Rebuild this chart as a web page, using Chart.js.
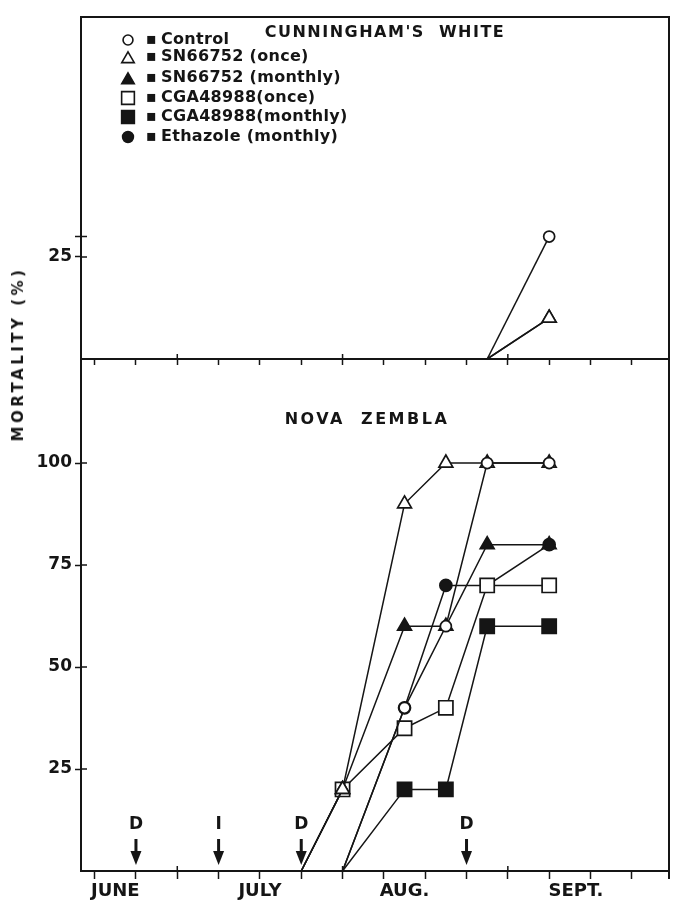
<!DOCTYPE html>
<html>
<head>
<meta charset="utf-8">
<title>Mortality</title>
<script src="https://cdn.jsdelivr.net/npm/chart.js@4.4.1/dist/chart.umd.min.js"></script>
<style>
  html, body { margin: 0; padding: 0; background: #fff; }
  #wrap { position: relative; width: 675px; height: 908px; overflow: hidden; }
  #nova-chart { position: absolute; left: 0; top: 359px; }
  #cw-chart { position: absolute; left: 0; top: 0; }
  #y-title {
    position: absolute; left: 18px; top: 354px;
    transform: translate(-50%, -50%) rotate(-90deg);
    font: bold 15px "DejaVu Sans", sans-serif; letter-spacing: 3.5px;
    white-space: nowrap; color: #151515;
  }
</style>
</head>
<body>
<div id="wrap">
  <canvas id="nova-chart" width="675" height="549"></canvas>
  <canvas id="cw-chart" width="675" height="372"></canvas>
  <div id="y-title">MORTALITY (%)</div>
</div>
<script>
const INK = '#151515';

// x is in weeks, 0 = first tick of June
const sampleWeeks = [5, 6, 7.5, 8.5, 9.5, 11];
const seriesNames = ['Control', 'SN66752 (once)', 'SN66752 (monthly)', 'CGA48988(once)', 'CGA48988(monthly)', 'Ethazole (monthly)'];

// Cunningham's White
const cwControl    = [null, null, null, null, 0, 30];
const cwSnOnce     = [null, null, null, null, 0, 10];
const cwSnMonthly  = [null, null, null, null, 0, 10];
const cwCgaOnce    = [null, null, null, null, null, null];
const cwCgaMonthly = [null, null, null, null, null, null];
const cwEthazole   = [null, null, null, null, null, null];

// Nova Zembla
const nzControl    = [null, 0, 40, 60, 100, 100];
const nzSnOnce     = [0, 20, 90, 100, 100, 100];
const nzSnMonthly  = [0, 20, 60, 60, 80, 80];
const nzCgaOnce    = [0, 20, 35, 40, 70, 70];
const nzCgaMonthly = [null, 0, 20, 20, 60, 60];
const nzEthazole   = [null, 0, 40, 70, 70, 80];

// week 14 (end of Sept.) sits on the right frame line
const weekTicks = [0, 1, 2, 3, 4, 5, 6, 7, 8, 9, 10, 11, 12, 13];
const monthStarts = [2, 6, 10];
const monthLabels = ['JUNE', 'JULY', 'AUG.', 'SEPT.'];
const monthLabelWeeks = [0.5, 4, 7.5, 11.65];
const treatWeeks = [1, 3, 5, 9];
const treatMarks = ['D', 'I', 'D', 'D'];
const cwYTicks = [25, 30];
const cwYLabels = ['25', ''];
const nzYTicks = [25, 50, 75, 100];
const nzYLabels = ['25', '50', '75', '100'];

Chart.defaults.font.family = '"DejaVu Sans", sans-serif';
Chart.defaults.color = INK;

const markers = [
  { style: 'circle',   r: 5.5, fill: false },
  { style: 'triangle', r: 8,   fill: false },
  { style: 'triangle', r: 8,   fill: true },
  { style: 'rect',     r: 10,  fill: false },
  { style: 'rect',     r: 10,  fill: true },
  { style: 'circle',   r: 6,   fill: true }
];

function makeDataset(i, values) {
  const m = markers[i];
  return {
    label: seriesNames[i],
    data: sampleWeeks.map((w, k) => ({ x: w, y: values[k] })).filter(p => p.y !== null),
    borderColor: INK,
    borderWidth: 1.5,
    tension: 0,
    pointStyle: m.style,
    pointRadius: c => (c.parsed && c.parsed.y === 0) ? 0 : m.r,
    pointBackgroundColor: m.fill ? INK : '#fff',
    pointBorderColor: INK,
    pointBorderWidth: 1.7
  };
}

function fixAxis(size, horizontal) {
  return (scale) => {
    if (horizontal) scale.height = size; else scale.width = size;
    scale.paddingLeft = scale.paddingRight = scale.paddingTop = scale.paddingBottom = 0;
  };
}

function xAxis(withLabels, tickLen, height) {
  return {
    type: 'linear', min: -0.33, max: 13.9,
    afterBuildTicks: (scale) => {
      const t = weekTicks.map(w => ({ value: w, text: '', kind: 'week' }));
      if (withLabels) {
        monthLabelWeeks.forEach((w, i) => {
          const hit = t.find(o => o.value === w);
          if (hit) hit.text = monthLabels[i];
          else t.push({ value: w, text: monthLabels[i], kind: 'label' });
        });
      }
      t.sort((a, b) => a.value - b.value);
      scale.ticks = t;
    },
    afterFit: fixAxis(height, true),
    ticks: {
      display: withLabels, autoSkip: false, maxRotation: 0, padding: 2,
      font: { size: 18, weight: 'bold' },
      callback: (v, i, ticks) => ticks[i].text
    },
    grid: {
      drawOnChartArea: false, tickLength: tickLen, tickWidth: 1.5,
      tickColor: c => (c.tick && c.tick.kind === 'label') ? 'rgba(0,0,0,0)' : INK
    },
    border: { color: INK, width: 2 }
  };
}

function yAxis(max, values, labels) {
  return {
    min: 0, max: max,
    afterBuildTicks: (scale) => { scale.ticks = values.map((v, i) => ({ value: v, text: labels[i] })); },
    afterFit: fixAxis(81, false),
    ticks: { padding: 3, font: { size: 17, weight: 'bold' }, callback: (v, i, ticks) => ticks[i].text },
    grid: { drawOnChartArea: false, tickLength: 6, tickWidth: 1.5, tickColor: INK },
    border: { color: INK, width: 2 }
  };
}

// frame lines + tick stubs that cross into the plot
const framePlugin = {
  id: 'frame',
  afterDraw(chart, args, o) {
    const { ctx, chartArea: a, scales: { x, y } } = chart;
    ctx.save();
    ctx.strokeStyle = INK;
    ctx.lineWidth = 1.5;
    ctx.beginPath();
    y.ticks.forEach(t => {
      const py = y.getPixelForValue(t.value);
      ctx.moveTo(a.left, py); ctx.lineTo(a.left + 6, py);
    });
    monthStarts.forEach(w => {
      const px = x.getPixelForValue(w);
      ctx.moveTo(px, a.bottom); ctx.lineTo(px, a.bottom - 5);
    });
    ctx.stroke();
    ctx.lineWidth = 2;
    ctx.beginPath();
    if (o.top) { ctx.moveTo(a.left - 1, a.top); ctx.lineTo(a.right + 1, a.top); }
    ctx.moveTo(a.right, a.top); ctx.lineTo(a.right, a.bottom + o.tail);
    ctx.stroke();
    ctx.restore();
  }
};

const titlePlugin = {
  id: 'panelTitle',
  afterDraw(chart, args, o) {
    const { ctx } = chart;
    ctx.save();
    ctx.fillStyle = INK;
    ctx.font = 'bold 16px "DejaVu Sans", sans-serif';
    ctx.letterSpacing = o.spacing;
    ctx.textAlign = 'center';
    ctx.textBaseline = 'middle';
    ctx.fillText(o.text, o.x, o.y);
    ctx.restore();
  }
};

const keyPlugin = {
  id: 'keyList',
  afterDraw(chart, args, o) {
    const { ctx } = chart;
    ctx.save();
    ctx.font = 'bold 16px "DejaVu Sans", sans-serif';
    ctx.letterSpacing = '0.3px';
    ctx.textBaseline = 'middle';
    ctx.textAlign = 'left';
    seriesNames.forEach((name, i) => {
      const m = markers[i];
      const y = o.rows[i];
      ctx.fillStyle = m.fill ? INK : '#fff';
      ctx.strokeStyle = INK;
      ctx.lineWidth = 1.6;
      const my = m.style === 'triangle' ? y + 2 : y;
      Chart.helpers.drawPoint(ctx, { pointStyle: m.style, radius: m.r * 0.9, rotation: 0, borderWidth: 1.6 }, o.markerX, my);
      ctx.fillStyle = INK;
      ctx.fillText('\u25AA', o.bulletX, y);
      ctx.fillText(name, o.textX, y);
    });
    ctx.restore();
  }
};

const treatPlugin = {
  id: 'treatments',
  afterDraw(chart) {
    const { ctx, chartArea: a, scales: { x } } = chart;
    ctx.save();
    ctx.fillStyle = INK;
    ctx.font = 'bold 17px "DejaVu Sans", sans-serif';
    ctx.textAlign = 'center';
    ctx.textBaseline = 'middle';
    treatWeeks.forEach((w, i) => {
      const px = x.getPixelForValue(w);
      ctx.fillText(treatMarks[i], px, a.bottom - 46);
      ctx.fillRect(px - 1.5, a.bottom - 32, 3, 14);
      ctx.beginPath();
      ctx.moveTo(px - 5.5, a.bottom - 20);
      ctx.lineTo(px + 5.5, a.bottom - 20);
      ctx.lineTo(px, a.bottom - 6);
      ctx.closePath();
      ctx.fill();
    });
    ctx.restore();
  }
};

const cwValues = [cwControl, cwSnOnce, cwSnMonthly, cwCgaOnce, cwCgaMonthly, cwEthazole];
const nzValues = [nzControl, nzSnOnce, nzSnMonthly, nzCgaOnce, nzCgaMonthly, nzEthazole];

new Chart(document.getElementById('cw-chart'), {
  type: 'line',
  data: { datasets: cwValues.map((v, i) => makeDataset(i, v)) },
  options: {
    responsive: false,
    animation: false,
    events: [],
    layout: { autoPadding: false, padding: { top: 17, right: 6, left: 0, bottom: 0 } },
    plugins: {
      legend: { display: false },
      tooltip: { enabled: false },
      frame: { top: true, tail: 0 },
      panelTitle: { text: "CUNNINGHAM'S  WHITE", x: 385, y: 33, spacing: '1.5px' },
      keyList: { rows: [40, 57, 78, 98, 117, 137], markerX: 128, bulletX: 146, textX: 161 }
    },
    scales: {
      x: xAxis(false, 6, 13),
      y: yAxis(83.8, cwYTicks, cwYLabels)
    }
  },
  plugins: [framePlugin, titlePlugin, keyPlugin]
});

new Chart(document.getElementById('nova-chart'), {
  type: 'line',
  data: { datasets: nzValues.map((v, i) => makeDataset(i, v)) },
  options: {
    responsive: false,
    animation: false,
    events: [],
    layout: { autoPadding: false, padding: { top: 0, right: 6, left: 0, bottom: 0 } },
    plugins: {
      legend: { display: false },
      tooltip: { enabled: false },
      frame: { top: false, tail: 8 },
      panelTitle: { text: 'NOVA  ZEMBLA', x: 367, y: 61, spacing: '2.5px' }
    },
    scales: {
      x: xAxis(true, 8, 37),
      y: yAxis(125.5, nzYTicks, nzYLabels)
    }
  },
  plugins: [framePlugin, titlePlugin, treatPlugin]
});
</script>
</body>
</html>
